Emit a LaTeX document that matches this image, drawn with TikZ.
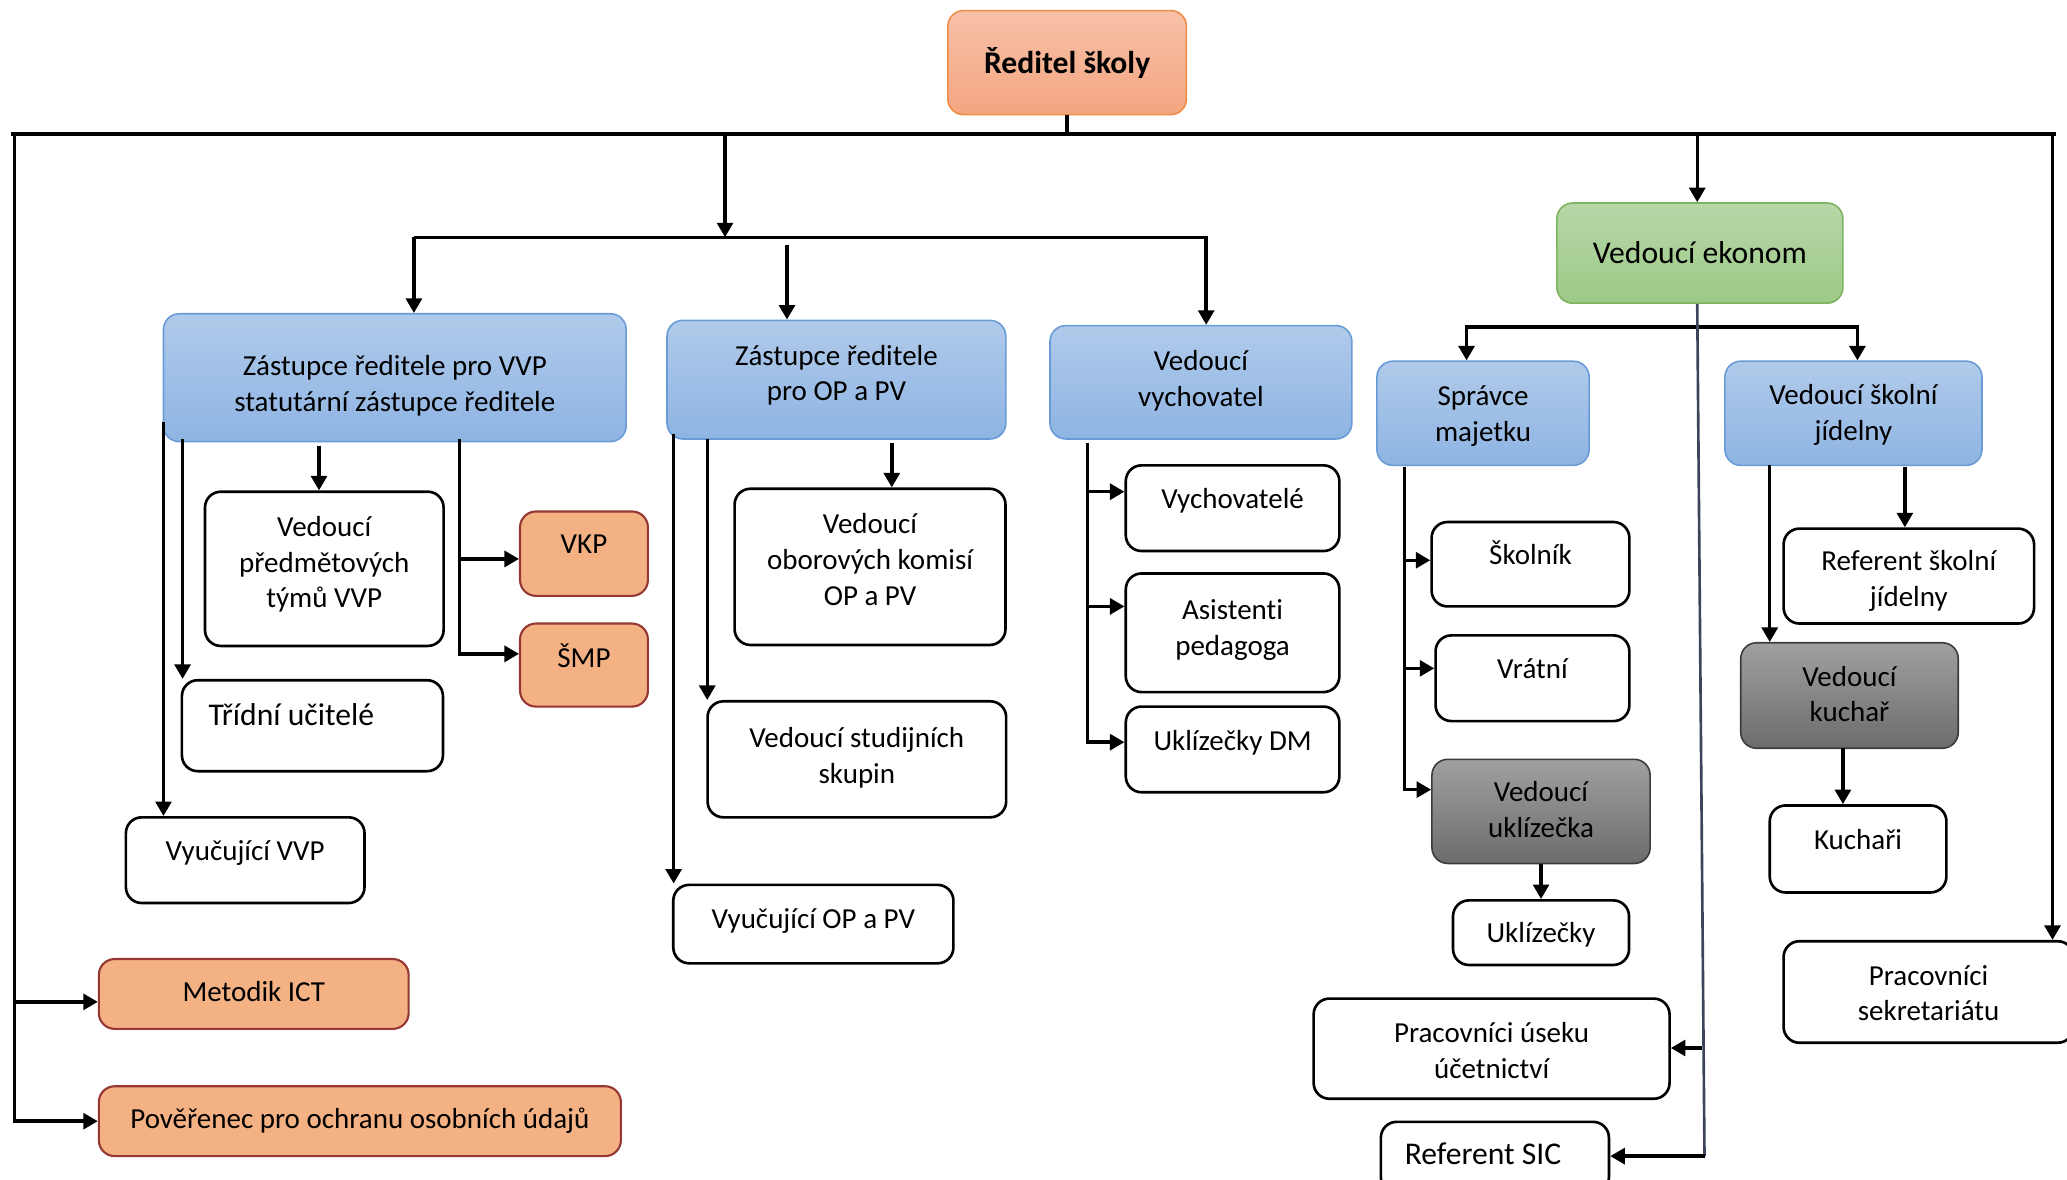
\documentclass[tikz,border=0pt]{standalone}
\usepackage{fontspec}
\setmainfont{Carlito}[Ligatures = NoCommon]
\usetikzlibrary{arrows.meta}
\definecolor{bossTop}{RGB}{247,193,168}
\definecolor{bossBottom}{RGB}{244,165,128}
\definecolor{bossLine}{RGB}{240,140,70}
\definecolor{blueTop}{RGB}{176,202,234}
\definecolor{blueBottom}{RGB}{142,180,227}
\definecolor{blueLine}{RGB}{105,155,215}
\definecolor{greenTop}{RGB}{183,215,167}
\definecolor{greenBottom}{RGB}{156,201,135}
\definecolor{greenLine}{RGB}{125,180,95}
\definecolor{grayTop}{RGB}{160,160,160}
\definecolor{grayBottom}{RGB}{108,108,108}
\definecolor{grayLine}{RGB}{60,60,60}
\definecolor{peachFill}{RGB}{244,177,131}
\definecolor{peachLine}{RGB}{150,55,52}
\definecolor{slateLine}{RGB}{59,68,88}
\tikzset {
  chart path/.style = {
    draw = black,
    line width = 1.3pt
  },
  % path style with an arrow at its end
  arr/.style = {
    chart path,
    ->
  },
  % path style with an arrow at both ends
  arrs/.style = {
    chart path,
    <->
  },
  % path style with no arrows
  narr/.style = {
    chart path
  },
  eko path/.style = {
    draw = slateLine,
    line width = 1pt
  }
}
\tikzset {
  chart node/.style = {
    draw = black,
    rounded corners = 6pt,
    align = center,
    inner sep = 2pt,
    font = \fontsize{11}{13.5}\selectfont
  },
  dims/.style 2 args = {
    minimum width = #1*0.5pt,
    minimum height = #2*0.5pt
  },
  % puts the last text line below the middle of the box
  drop/.style = {
    text height = #1,
    text depth = 0pt
  },
  big/.style = {
    font = \fontsize{12}{14}\selectfont
  },
  % director
  boss/.style = {
    chart node,
    draw = bossLine,
    line width = 0.6pt,
    top color = bossTop,
    bottom color = bossBottom,
    font = \fontsize{12}{14}\selectfont\bfseries
  },
  % deputies and heads
  deputy/.style = {
    chart node,
    draw = blueLine,
    line width = 0.6pt,
    top color = blueTop,
    bottom color = blueBottom
  },
  economy/.style = {
    chart node,
    draw = greenLine,
    line width = 0.6pt,
    top color = greenTop,
    bottom color = greenBottom,
    big
  },
  foreman/.style = {
    chart node,
    draw = grayLine,
    line width = 0.6pt,
    top color = grayTop,
    bottom color = grayBottom
  },
  office/.style = {
    chart node,
    draw = peachLine,
    line width = 0.8pt,
    fill = peachFill
  },
  staff/.style = {
    chart node,
    line width = 1pt,
    fill = white
  }
}

\begin{document}
\begin{tikzpicture}[x = 0.5pt, y = -0.5pt, >= {Triangle[length = 5.5pt, width = 6pt]}]
  \useasboundingbox (0,0) rectangle (1568,894.5);

  \node[boss, dims = {181}{79}] (director) at (809.5,47.5) {Ředitel školy};

  \node[deputy, drop = 25.5pt, dims = {351}{97}] (zvvp) at (299.5,286.5) {Zástupce ředitele pro VVP\\statutární zástupce ředitele};
  \node[deputy, drop = 16pt, dims = {257}{90}] (zop) at (634.5,288) {Zástupce ředitele\\pro OP a PV};
  \node[deputy, drop = 18pt, dims = {229}{86}] (vych) at (911,290) {Vedoucí\\vychovatel};
  \node[economy, dims = {217}{76}] (ekonom) at (1289.5,192) {Vedoucí ekonom};
  \node[deputy, drop = 21.2pt, dims = {161}{79}] (spravce) at (1125,313.5) {Správce\\majetku};
  \node[deputy, drop = 20.5pt, dims = {195}{79}] (jidelna) at (1406,313.5) {Vedoucí školní\\jídelny};

  \node[staff, drop = 29.5pt, dims = {181}{117}] (tymy) at (246,431.5) {Vedoucí\\předmětových\\týmů VVP};
  \node[office, drop = 0pt, dims = {97}{64}] (vkp) at (443,420) {VKP};
  \node[office, drop = 1.5pt, dims = {97}{63}] (smp) at (443,504.5) {ŠMP};
  \node[staff, big, drop = 0pt, dims = {198}{69}] (tridni) at (237,550.5) {Třídní učitelé\hspace*{16pt}};
  \node[staff, drop = 0pt, dims = {181}{65}] (vyucvvp) at (186,652.5) {Vyučující VVP};
  \node[office, drop = 5.7pt, dims = {235}{53}] (metodik) at (192.5,754) {Metodik ICT};
  \node[office, drop = 5.5pt, dims = {396}{53}] (poverenec) at (273,850.5) {Pověřenec pro ochranu osobních údajů};

  \node[staff, drop = 29pt, dims = {205.5}{118.5}] (komise) at (660,430) {Vedoucí\\oborových komisí\\OP a PV};
  \node[staff, drop = 18pt, dims = {226.5}{88}] (skupiny) at (650,576) {Vedoucí studijních\\skupin};
  \node[staff, drop = 3pt, dims = {212.5}{59.5}] (vyucop) at (617,701) {Vyučující OP a PV};

  \node[staff, drop = 0pt, dims = {162}{65}] (vychovatele) at (935,385.5) {Vychovatelé};
  \node[staff, drop = 17pt, dims = {162}{90}] (asistenti) at (935,480) {Asistenti\\pedagoga};
  \node[staff, drop = 0.5pt, dims = {162}{65}] (ukldm) at (935,568.5) {Uklízečky DM};

  \node[staff, drop = 0pt, dims = {150}{64}] (skolnik) at (1161,428) {Školník};
  \node[staff, drop = 0.5pt, dims = {147}{65}] (vratni) at (1162.5,514.5) {Vrátní};
  \node[foreman, drop = 19.5pt, dims = {165.5}{79}] (veduklid) at (1169,615.5) {Vedoucí\\uklízečka};
  \node[staff, drop = 7.5pt, dims = {133.5}{49}] (uklizecky) at (1169,707.5) {Uklízečky};
  \node[staff, drop = 22.5pt, dims = {270}{76}] (ucetnictvi) at (1131.5,795.5) {Pracovníci úseku\\účetnictví};
  \node[staff, big, drop = 5pt, dims = {173}{54}] (sic) at (1134,878) {Referent SIC\hspace*{9pt}};

  \node[staff, drop = 23pt, dims = {190}{72}] (refjid) at (1448,437) {Referent školní\\jídelny};
  \node[foreman, drop = 20pt, dims = {165}{80}] (kuchar) at (1403,527.6) {Vedoucí\\kuchař};
  \node[staff, drop = 0.5pt, dims = {134}{66}] (kuchari) at (1409.5,644) {Kuchaři};
  \node[staff, drop = 22pt, dims = {220}{77}] (sekretariat) at (1463,752.5) {Pracovníci\\sekretariátu};

  % main bus under the director
  \coordinate (bus-west) at (8,102);
  \coordinate (bus-east) at (1560,102);
  \draw[narr, line width = 1.5pt] (bus-west) -- (bus-east);
  \draw[narr] (director) -- (director |- bus-west);

  \coordinate (left-rail) at (11,102);
  \draw[arr] (left-rail) |- (metodik.west |- 0,760);
  \draw[arr] (left-rail) |- (poverenec);

  \coordinate (right-rail) at (1557,102);
  \draw[arr] (right-rail) -- (right-rail |- sekretariat.north);

  % deputies
  \coordinate (bus-deputies) at (550,102);
  \coordinate (bus2-mid) at (550,180);
  \coordinate (bus2-west) at (314,180);
  \coordinate (bus2-east) at (915,180);
  \coordinate (zop-in) at (597,186);
  \draw[arr] (bus-deputies) -- (bus2-mid);
  \draw[arr] (bus2-west)
  -- (bus2-east)
  -- (bus2-east |- vych.north);
  \draw[arr] (bus2-west) -- (bus2-west |- zvvp.north);
  \draw[arr] (zop-in) -- (zop-in |- zop.north);

  % economy
  \coordinate (eko-in) at (1287.5,102);
  \coordinate (bus3-west) at (1112.5,248);
  \coordinate (bus3-east) at (1409,248);
  \coordinate (eko-foot) at (1293,877);
  \coordinate (eko-acc) at (1291,795);
  \draw[arr] (eko-in) -- (eko-in |- ekonom.north);
  \draw[arrs] (bus3-west |- spravce.north)
  -- (bus3-west)
  -- (bus3-east)
  -- (bus3-east |- jidelna.north);
  \draw[eko path] (ekonom.south -| eko-in) -- (eko-foot);
  \draw[arr] (eko-foot) -- (eko-foot -| sic.east);
  \draw[arr] (eko-acc) -- (eko-acc -| ucetnictvi.east);

  % under the VVP deputy
  \coordinate (zvvp-a) at (124,320);
  \coordinate (zvvp-b) at (138.5,333);
  \coordinate (zvvp-c) at (242,338);
  \coordinate (zvvp-d) at (348.5,333);
  \draw[arr] (zvvp-a) -- (zvvp-a |- vyucvvp.north);
  \draw[arr] (zvvp-b) -- (zvvp-b |- tridni.north);
  \draw[arr] (zvvp-c) -- (zvvp-c |- tymy.north);
  \draw[arr] (zvvp-d) |- (vkp.west |- 0,424);
  \draw[arr] (zvvp-d) |- (smp.west |- 0,496);

  % under the OP deputy
  \coordinate (zop-a) at (511,329);
  \coordinate (zop-b) at (536.5,333);
  \coordinate (zop-c) at (676.5,336);
  \draw[arr] (zop-a) -- (zop-a |- vyucop.north);
  \draw[arr] (zop-b) -- (zop-b |- skupiny.north);
  \draw[arr] (zop-c) -- (zop-c |- komise.north);

  % under the head educator
  \coordinate (vych-rail) at (825,336);
  \draw[arr] (vych-rail) |- (vychovatele.west |- 0,373);
  \draw[arr] (vych-rail) |- (asistenti.west |- 0,460);
  \draw[arr] (vych-rail) |- (ukldm.west |- 0,563);

  % under the property manager
  \coordinate (spravce-rail) at (1065.5,354);
  \draw[arr] (spravce-rail) |- (skolnik.west |- 0,425);
  \draw[arr] (spravce-rail) |- (vratni.west |- 0,507);
  \draw[arr] (spravce-rail) |- (veduklid.west |- 0,599);
  \draw[arr] (veduklid) -- (uklizecky);

  % under the canteen head
  \coordinate (jid-a) at (1342.5,353);
  \coordinate (jid-b) at (1445,354);
  \coordinate (kuch-a) at (1398,567.6);
  \draw[arr] (jid-a) -- (jid-a |- kuchar.north);
  \draw[arr] (jid-b) -- (jid-b |- refjid.north);
  \draw[arr] (kuch-a) -- (kuch-a |- kuchari.north);
\end{tikzpicture}
\end{document}
